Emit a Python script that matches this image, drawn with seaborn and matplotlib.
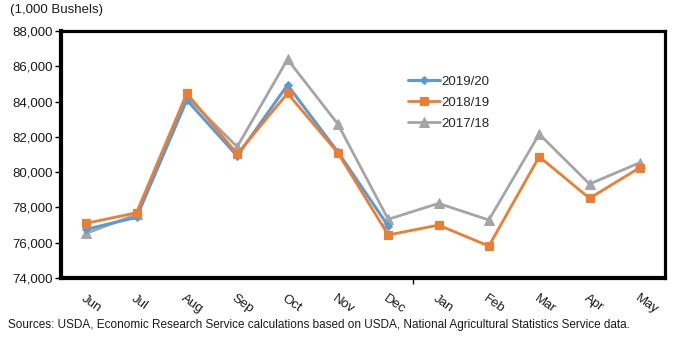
import matplotlib
matplotlib.use("Agg")
import matplotlib.pyplot as plt
import matplotlib.ticker as mticker
import matplotlib.transforms as mtransforms
import numpy as np
import pandas as pd
import seaborn as sns

months = ["Jun", "Jul", "Aug", "Sep", "Oct", "Nov", "Dec",
          "Jan", "Feb", "Mar", "Apr", "May"]
y2019_20 = [76760, 77440, 84090, 80920, 84940, 81150, 76950,
            None, None, None, None, None]
y2018_19 = [77100, 77700, 84470, 81030, 84470, 81100, 76440,
            77000, 75810, 80880, 78520, 80260]
y2017_18 = [76530, 77610, 84280, 81440, 86400, 82730, 77330,
            78230, 77290, 82160, 79330, 80540]
y_ticks = [74000, 76000, 78000, 80000, 82000, 84000, 86000, 88000]

sns.set_theme(style="white")
plt.rcParams["font.family"] = ["Liberation Sans", "DejaVu Sans"]

fig = plt.figure(figsize=(6.8, 3.38), dpi=100)
ax = fig.add_axes([0.0897, 0.1775, 0.8883, 0.7305])

series = [
    ("2017/18", y2017_18, "#A5A5A5", "^", 6.5, 2.0),
    ("2019/20", y2019_20, "#5B9BD5", "D", 4.0, 2.2),
    ("2018/19", y2018_19, "#ED7D31", "s", 6.0, 2.0),
]
handles = {}
for name, vals, color, mk, ms, lw in series:
    df = pd.DataFrame({"month": months, "value": vals}).dropna()
    sns.lineplot(data=df, x="month", y="value", sort=False, ax=ax,
                 color=color, marker=mk, markersize=ms, linewidth=lw,
                 markeredgecolor=color, label=name)
    handles[name] = ax.lines[-1]

ax.set_xlim(-0.5, len(months) - 0.5)
ax.set_ylim(y_ticks[0], y_ticks[-1])
ax.set_yticks(y_ticks)
ax.yaxis.set_major_formatter(mticker.FuncFormatter(lambda v, p: f"{int(v):,}"))
ax.set_xlabel("")
ax.set_ylabel("")

ax.tick_params(axis="y", which="major", left=True, length=4, width=1,
               color="black", labelsize=9.5, pad=2, labelcolor="#1a1a1a")
ax.tick_params(axis="x", which="major", bottom=False, labelsize=9.5, pad=8,
               labelcolor="#1a1a1a")
shift = mtransforms.ScaledTranslation(-4 / 100, 0, fig.dpi_scale_trans)
for lbl in ax.get_xticklabels():
    lbl.set_rotation(-35)
    lbl.set_rotation_mode("anchor")
    lbl.set_ha("left")
    lbl.set_va("center")
    lbl.set_transform(lbl.get_transform() + shift)
ax.set_xticks([6.5], minor=True)
ax.tick_params(axis="x", which="minor", bottom=True, length=4, width=1,
               color="black")

for side in ["left", "bottom"]:
    ax.spines[side].set_linewidth(3.0)
    ax.spines[side].set_color("black")
for side in ["top", "right"]:
    ax.spines[side].set_linewidth(2.3)
    ax.spines[side].set_color("black")

order = ["2019/20", "2018/19", "2017/18"]
leg = ax.legend([handles[k] for k in order], order, loc="upper left",
                bbox_to_anchor=(0.566, 0.842), frameon=False, fontsize=9.5,
                handlelength=2.4, handletextpad=0.15, labelspacing=0.67,
                borderaxespad=0)

fig.text(10 / 680, 1 - 10 / 338, "(1,000 Bushels)", fontsize=9.5,
         ha="left", va="center", color="#1a1a1a")
fig.text(8 / 680, 1 - 325 / 338,
         "Sources: USDA, Economic Research Service calculations based on USDA, "
         "National Agricultural Statistics Service data.",
         fontsize=8.5, ha="left", va="center", color="#1a1a1a")

fig.savefig("out.png", dpi=100)
